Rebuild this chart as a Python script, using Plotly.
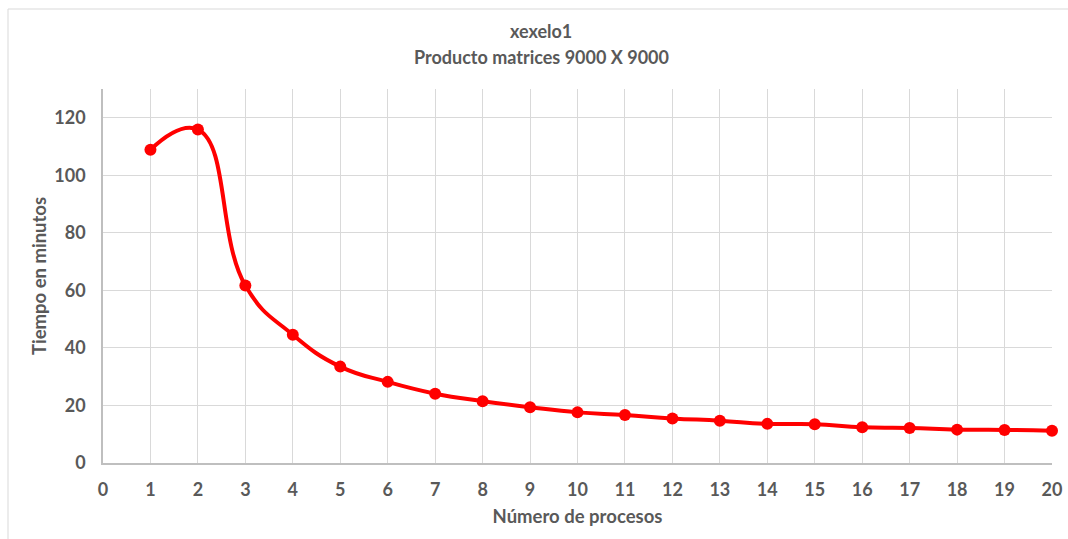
import plotly.graph_objects as go

procesos = list(range(1, 21))
tiempo = [108.9, 115.9, 61.7, 44.6, 33.5, 28.2, 24.1, 21.5, 19.4, 17.6,
          16.7, 15.5, 14.7, 13.6, 13.5, 12.4, 12.2, 11.6, 11.5, 11.2]
x_ticks = list(range(0, 21))
y_ticks = [0, 20, 40, 60, 80, 100, 120]

title_line1 = "xexelo1"
title_line2 = "Producto matrices 9000 X 9000"
x_title = "Número de procesos"
y_title = "Tiempo en minutos"

FONT = "Lato"
GRAY = "#595959"
L, R, T, B = 103, 16, 89, 76
W, H = 1068, 539
PW, PH = W - L - R, H - T - B


def py(pix):
    return (H - B - pix) / PH


def px(pix):
    return (pix - L) / PW


fig = go.Figure()
fig.add_trace(go.Scatter(
    x=procesos, y=tiempo, mode="lines+markers",
    line=dict(color="#FF0000", width=4, shape="spline", smoothing=1.3),
    marker=dict(color="#FF0000", size=12),
    showlegend=False, cliponaxis=False,
))

fig.update_layout(
    width=W, height=H,
    margin=dict(l=L, r=R, t=T, b=B, autoexpand=False),
    paper_bgcolor="white", plot_bgcolor="white",
    font=dict(family=FONT, color=GRAY),
    annotations=[
        dict(text="<b>" + title_line1 + "</b>", xref="paper", yref="paper",
             x=px(541), y=py(31), xanchor="center", yanchor="middle",
             showarrow=False, font=dict(family=FONT, size=18, color=GRAY)),
        dict(text="<b>" + title_line2 + "</b>", xref="paper", yref="paper",
             x=px(541), y=py(57), xanchor="center", yanchor="middle",
             showarrow=False, font=dict(family=FONT, size=18, color=GRAY)),
    ],
    shapes=[
        dict(type="line", xref="paper", yref="paper",
             x0=px(8), x1=1.2, y0=py(9), y1=py(9),
             line=dict(color="#d9d9d9", width=1)),
        dict(type="line", xref="paper", yref="paper",
             x0=px(8), x1=px(8), y0=-0.3, y1=py(9),
             line=dict(color="#d9d9d9", width=1)),
    ],
)

fig.update_xaxes(
    range=[0, 20], tickvals=x_ticks, ticktext=[str(v) for v in x_ticks],
    showgrid=True, gridcolor="#d9d9d9", gridwidth=1,
    showline=True, linecolor="#bfbfbf", linewidth=1.5, mirror=False,
    zeroline=False, ticks="", ticklabelstandoff=10,
    automargin=False, ticklabeloverflow="allow",
    tickfont=dict(family=FONT, size=18, color=GRAY, weight="bold"),
    title=dict(text="<b>" + x_title + "</b>", standoff=11,
               font=dict(family=FONT, size=18.5, color=GRAY)),
)
fig.update_yaxes(
    range=[0, 130], tickvals=y_ticks, ticktext=[str(v) for v in y_ticks],
    showgrid=True, gridcolor="#d9d9d9", gridwidth=1,
    showline=True, linecolor="#bfbfbf", linewidth=1.5,
    zeroline=False, ticks="", ticklabelstandoff=12,
    automargin=False,
    tickfont=dict(family=FONT, size=18, color=GRAY, weight="bold"),
    title=dict(text="<b>" + y_title + "</b>", standoff=3,
               font=dict(family=FONT, size=18.5, color=GRAY)),
)

fig.write_html("out.html")
